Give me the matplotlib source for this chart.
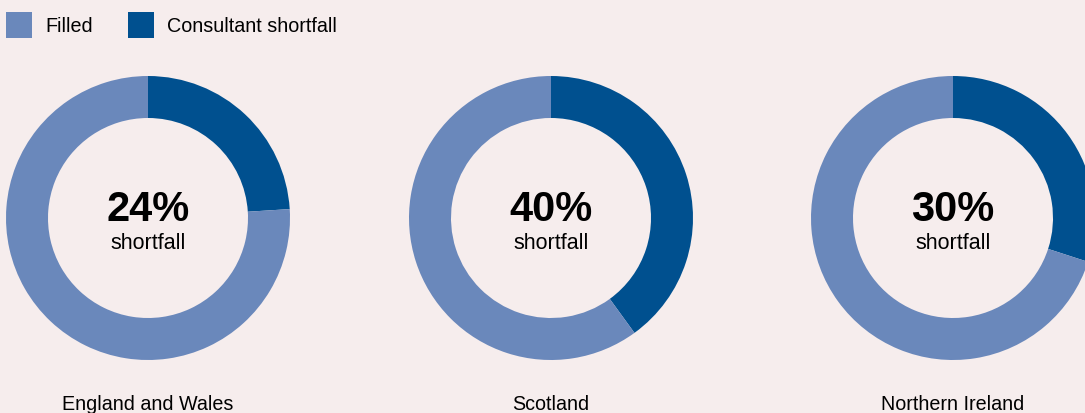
import matplotlib.pyplot as plt
from matplotlib.patches import Rectangle

plt.rcParams['font.family'] = ['Liberation Sans', 'DejaVu Sans']

regions = ['England and Wales', 'Scotland', 'Northern Ireland']
shortfall = [24, 40, 30]
series_labels = ['Filled', 'Consultant shortfall']

c_filled = '#6a88bb'
c_short = '#00508f'
bg = '#f6eded'

W, H = 1085, 414
fig = plt.figure(figsize=(W / 100, H / 100), dpi=100, facecolor=bg)

centers_x = [148, 551, 953]
cy = 195
r = 142

for name, pct, cx in zip(regions, shortfall, centers_x):
    ax = fig.add_axes([(cx - r) / W, (cy - r) / H, 2 * r / W, 2 * r / H])
    ax.set_facecolor(bg)
    ax.pie([pct, 100 - pct], colors=[c_short, c_filled], startangle=90,
           counterclock=False, radius=1.0,
           wedgeprops=dict(width=42 / 142, linewidth=0))
    ax.set_xlim(-1, 1)
    ax.set_ylim(-1, 1)
    ax.set_aspect('equal')
    ax.axis('off')
    ax.text(0, 0.06, f'{pct}%', ha='center', va='center',
            fontsize=30, fontweight='bold', color='black')
    ax.text(0, -0.17, 'shortfall', ha='center', va='center',
            fontsize=15.5, color='black')
    fig.text(cx / W, 9 / H, name, ha='center', va='center',
             fontsize=14.2, color='black')

# legend: coloured squares with labels, laid out by hand
legend_x = [6, 128]
for x0, col, lab in zip(legend_x, [c_filled, c_short], series_labels):
    fig.patches.append(Rectangle((x0 / W, 375 / H), 26 / W, 26 / H,
                                 transform=fig.transFigure,
                                 facecolor=col, edgecolor='none'))
    fig.text((x0 + 39) / W, 388 / H, lab, ha='left', va='center',
             fontsize=14.2, color='black')

fig.savefig('out.png', dpi=100, facecolor=bg)
